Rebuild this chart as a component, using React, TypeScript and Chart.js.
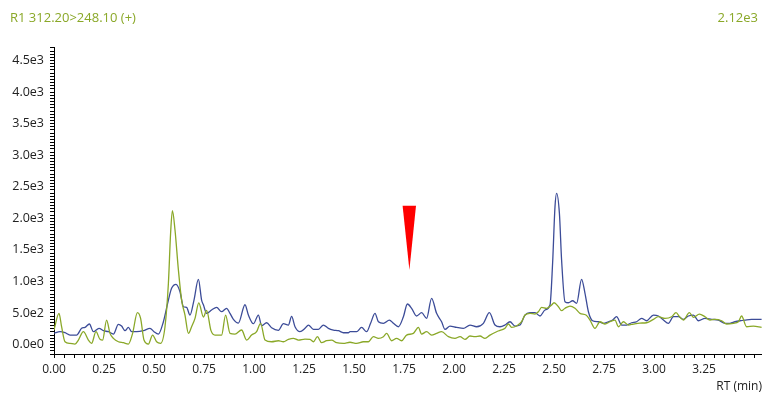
import React, { useEffect, useRef } from 'react';
import { Chart, registerables } from 'chart.js';

Chart.register(...registerables);

const TRACE_TITLE = 'R1 312.20>248.10 (+)';
const TRACE_MAX_LABEL = '2.12e3';
const X_AXIS_TITLE = 'RT (min)';

const GREEN = 'rgb(138,168,40)';
const BLUE = 'rgb(60,76,152)';

// Retention times (min) and intensities
const blueRT = [0.000, 0.030, 0.055, 0.080, 0.113, 0.138, 0.155, 0.177, 0.197, 0.225, 0.247, 0.272, 0.297, 0.322, 0.338, 0.355, 0.372, 0.388, 0.413, 0.447, 0.480, 0.500, 0.522, 0.547, 0.572, 0.588, 0.610, 0.630, 0.647, 0.663, 0.680, 0.700, 0.722, 0.738, 0.747, 0.763, 0.788, 0.813, 0.838, 0.863, 0.880, 0.897, 0.922, 0.955, 0.972, 0.997, 1.022, 1.038, 1.063, 1.088, 1.122, 1.147, 1.172, 1.188, 1.205, 1.230, 1.255, 1.272, 1.297, 1.322, 1.347, 1.372, 1.397, 1.422, 1.447, 1.472, 1.480, 1.513, 1.538, 1.563, 1.583, 1.605, 1.622, 1.647, 1.677, 1.697, 1.722, 1.747, 1.767, 1.788, 1.813, 1.838, 1.863, 1.888, 1.913, 1.938, 1.955, 1.980, 2.013, 2.047, 2.080, 2.113, 2.147, 2.177, 2.205, 2.230, 2.255, 2.280, 2.305, 2.330, 2.355, 2.380, 2.405, 2.430, 2.455, 2.480, 2.493, 2.505, 2.513, 2.527, 2.538, 2.555, 2.572, 2.593, 2.613, 2.638, 2.655, 2.672, 2.693, 2.722, 2.747, 2.772, 2.793, 2.813, 2.838, 2.863, 2.888, 2.913, 2.938, 2.963, 2.997, 3.022, 3.047, 3.072, 3.097, 3.122, 3.147, 3.172, 3.197, 3.222, 3.255, 3.288, 3.322, 3.355, 3.380, 3.405, 3.430, 3.455, 3.488, 3.538];
const blueIntensity = [180, 203, 187, 150, 150, 257, 272, 325, 203, 257, 219, 203, 166, 320, 293, 219, 272, 203, 203, 219, 257, 203, 166, 361, 705, 890, 954, 837, 599, 589, 467, 705, 1033, 705, 630, 494, 547, 589, 520, 574, 494, 400, 340, 630, 467, 330, 467, 300, 345, 265, 225, 330, 309, 445, 282, 203, 257, 309, 240, 240, 309, 257, 230, 219, 187, 187, 203, 203, 272, 203, 336, 494, 361, 336, 388, 336, 282, 441, 642, 574, 452, 504, 415, 732, 494, 361, 240, 293, 272, 257, 309, 282, 336, 504, 309, 282, 309, 361, 293, 309, 467, 504, 504, 452, 547, 626, 1287, 2184, 2396, 2079, 1339, 678, 662, 694, 653, 1033, 811, 520, 377, 361, 336, 361, 388, 441, 309, 309, 345, 361, 415, 377, 467, 452, 388, 336, 441, 441, 399, 452, 467, 377, 415, 399, 388, 336, 336, 361, 377, 388, 399, 399];

const greenRT = [0.000, 0.025, 0.038, 0.055, 0.080, 0.105, 0.122, 0.147, 0.172, 0.188, 0.210, 0.230, 0.243, 0.263, 0.280, 0.297, 0.322, 0.347, 0.372, 0.393, 0.417, 0.433, 0.450, 0.472, 0.493, 0.513, 0.533, 0.555, 0.572, 0.583, 0.592, 0.605, 0.622, 0.638, 0.655, 0.672, 0.688, 0.705, 0.724, 0.747, 0.763, 0.785, 0.805, 0.838, 0.858, 0.880, 0.905, 0.938, 0.963, 0.988, 1.013, 1.033, 1.055, 1.088, 1.122, 1.147, 1.172, 1.197, 1.222, 1.255, 1.280, 1.297, 1.317, 1.338, 1.363, 1.388, 1.413, 1.447, 1.480, 1.513, 1.547, 1.572, 1.597, 1.622, 1.647, 1.663, 1.688, 1.713, 1.738, 1.763, 1.797, 1.822, 1.838, 1.863, 1.888, 1.913, 1.938, 1.972, 2.005, 2.030, 2.055, 2.080, 2.105, 2.130, 2.155, 2.180, 2.213, 2.230, 2.255, 2.272, 2.288, 2.313, 2.338, 2.355, 2.380, 2.405, 2.422, 2.438, 2.463, 2.488, 2.500, 2.522, 2.538, 2.555, 2.580, 2.605, 2.630, 2.660, 2.680, 2.705, 2.730, 2.755, 2.780, 2.805, 2.822, 2.847, 2.872, 2.897, 2.930, 2.963, 2.997, 3.022, 3.055, 3.088, 3.110, 3.130, 3.147, 3.177, 3.197, 3.227, 3.255, 3.280, 3.305, 3.338, 3.363, 3.397, 3.422, 3.438, 3.463, 3.497, 3.538];
const greenIntensity = [230, 494, 282, 44, 19, 8, 71, 203, 71, 19, 203, 82, 71, 388, 177, 98, 44, 29, 8, 177, 504, 415, 71, 8, 150, 44, 19, 282, 970, 1762, 2120, 1815, 1181, 705, 467, 177, 282, 415, 660, 436, 540, 220, 150, 150, 467, 177, 166, 230, 71, 150, 203, 336, 71, 44, 60, 44, 82, 98, 71, 87, 82, 44, 124, 29, 60, 71, 29, 19, 36, 19, 44, 44, 124, 98, 124, 177, 60, 98, 60, 150, 177, 272, 166, 203, 150, 177, 203, 124, 98, 124, 82, 135, 124, 135, 98, 150, 203, 225, 257, 325, 272, 293, 361, 467, 494, 483, 520, 589, 574, 626, 662, 599, 536, 574, 610, 574, 494, 467, 388, 257, 361, 325, 361, 388, 282, 361, 309, 325, 340, 345, 399, 441, 415, 441, 504, 431, 388, 504, 431, 483, 441, 388, 399, 377, 325, 336, 361, 452, 282, 293, 272];

// Red marker (retention time and intensity of its corners)
const markerRT = [1.743, 1.810, 1.777];
const markerIntensity = [2200, 2200, 1180];

// Axis extents and ticks
const X_MIN = 0;
const X_MAX = 3.54;
const Y_MIN = -150;
const Y_MAX = 4714;
const xMinorStep = 0.05;
const xLabelStep = 0.25;
const xLastTick = 3.5;
const xLastLabel = 3.25;
const yMinorStep = 50;
const yLabelStep = 500;
const yLastTick = 4700;

const FONT = "'Open Sans', 'Noto Sans', sans-serif";

function pairs(xs: number[], ys: number[]) {
  return xs.map((x, i) => ({ x, y: ys[i] }));
}

function isMultiple(v: number, step: number) {
  const r = v / step;
  return Math.abs(r - Math.round(r)) < 1e-6;
}

export default function App() {
  const canvasRef = useRef<HTMLCanvasElement | null>(null);

  useEffect(() => {
    document.body.style.margin = '0';
    const canvas = canvasRef.current;
    if (!canvas) return;

    const xTicks: number[] = [];
    for (let i = 0; i * xMinorStep <= xLastTick + 1e-9; i++) xTicks.push(+(i * xMinorStep).toFixed(4));
    const yTicks: number[] = [];
    for (let v = Y_MIN; v <= yLastTick + 1e-9; v += yMinorStep) yTicks.push(v);

    const chart = new Chart(canvas, {
      type: 'line',
      data: {
        datasets: [
          {
            label: 'marker',
            data: pairs(markerRT, markerIntensity),
            borderWidth: 0,
            borderColor: 'rgba(0,0,0,0)',
            backgroundColor: 'rgb(255,0,0)',
            fill: 'shape',
            pointRadius: 0,
            tension: 0,
          },
          {
            label: 'green',
            data: pairs(greenRT, greenIntensity),
            borderColor: GREEN,
            borderWidth: 1.3,
            pointRadius: 0,
            fill: false,
            cubicInterpolationMode: 'monotone',
          },
          {
            label: 'blue',
            data: pairs(blueRT, blueIntensity),
            borderColor: BLUE,
            borderWidth: 1.3,
            pointRadius: 0,
            fill: false,
            cubicInterpolationMode: 'monotone',
          },
        ],
      },
      options: {
        animation: false,
        responsive: false,
        devicePixelRatio: 1,
        layout: { padding: { top: 47, left: 0, right: 0, bottom: 0 } },
        plugins: {
          legend: { display: false },
          tooltip: { enabled: false },
          title: { display: false },
        },
        scales: {
          x: {
            type: 'linear',
            min: X_MIN,
            max: X_MAX,
            afterBuildTicks: (scale: any) => {
              scale.ticks = xTicks.map((value) => ({ value }));
            },
            afterFit: (scale: any) => {
              scale.height = 39;
            },
            ticks: {
              autoSkip: false,
              maxRotation: 0,
              minRotation: 0,
              padding: 4,
              color: '#222',
              font: { family: FONT, size: 12 },
              callback: (value: any) => {
                const v = Number(value);
                return isMultiple(v, xLabelStep) && v <= xLastLabel + 1e-9 ? v.toFixed(2) : '';
              },
            },
            grid: {
              drawOnChartArea: false,
              drawTicks: true,
              tickLength: 4,
              tickColor: '#000',
              tickWidth: 1,
            },
            border: { display: true, color: '#000', width: 1 },
            title: {
              display: true,
              text: X_AXIS_TITLE,
              align: 'end',
              color: '#222',
              font: { family: FONT, size: 12 },
              padding: { top: 0, bottom: -1 },
            },
          },
          y: {
            type: 'linear',
            min: Y_MIN,
            max: Y_MAX,
            afterBuildTicks: (scale: any) => {
              scale.ticks = yTicks.map((value) => ({ value }));
            },
            afterFit: (scale: any) => {
              scale.width = 54;
            },
            ticks: {
              autoSkip: false,
              padding: 6,
              color: '#222',
              font: { family: FONT, size: 12.5 },
              callback: (value: any) => {
                const v = Number(value);
                if (v < 0 || !isMultiple(v, yLabelStep)) return '';
                return v.toExponential(1).replace('+', '');
              },
            },
            grid: {
              drawOnChartArea: false,
              drawTicks: true,
              tickLength: 4,
              tickColor: '#000',
              tickWidth: 1,
            },
            border: { display: true, color: '#000', width: 1 },
          },
        },
      } as any,
    });

    return () => {
      chart.destroy();
    };
  }, []);

  const textStyle: React.CSSProperties = {
    position: 'absolute',
    top: 9,
    fontFamily: FONT,
    fontSize: 13,
    lineHeight: '16px',
    color: GREEN,
    whiteSpace: 'nowrap',
  };

  return (
    <div style={{ position: 'relative', width: 762, height: 393 }}>
      <canvas ref={canvasRef} width={762} height={393} style={{ display: 'block', width: 762, height: 393 }} />
      <div style={{ ...textStyle, left: 10 }}>{TRACE_TITLE}</div>
      <div style={{ ...textStyle, right: 4 }}>{TRACE_MAX_LABEL}</div>
    </div>
  );
}
